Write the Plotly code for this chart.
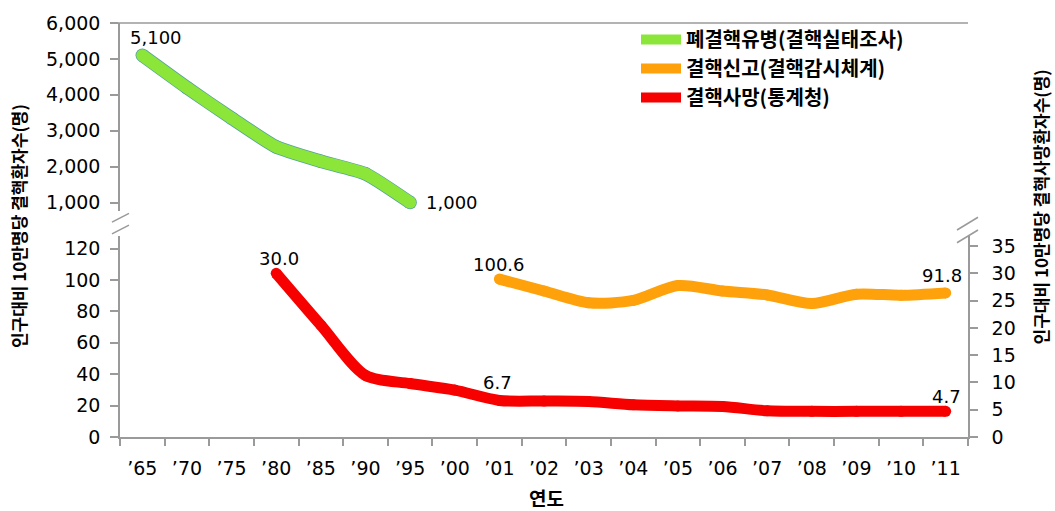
import plotly.graph_objects as go

# ---------------- data ----------------
years = ["’65", "’70", "’75", "’80", "’85", "’90", "’95", "’00", "’01", "’02",
         "’03", "’04", "’05", "’06", "’07", "’08", "’09", "’10", "’11"]

prev_name = "폐결핵유병(결핵실태조사)"
prev_years = years[0:7]
prev_vals = [5100, 4200, 3350, 2550, 2150, 1800, 1000]

notif_name = "결핵신고(결핵감시체계)"
notif_years = years[8:]
notif_vals = [100.6, 93.0, 85.5, 87.0, 96.5, 93.0, 90.5, 85.0, 91.0, 90.3, 91.8]

death_name = "결핵사망(통계청)"
death_years = years[3:]
death_vals = [30.0, 20.5, 11.3, 9.8, 8.6, 6.7, 6.6, 6.5, 5.9, 5.7, 5.6, 4.8, 4.7, 4.7, 4.7, 4.7]

left_title = "인구대비 10만명당 결핵환자수(명)"
right_title = "인구대비 10만명당 결핵사망환자수(명)"
x_title = "연도"

top_ticks = [1000, 2000, 3000, 4000, 5000, 6000]
left_ticks = [0, 20, 40, 60, 80, 100, 120]
right_ticks = [0, 5, 10, 15, 20, 25, 30, 35]

# ---------------- style ----------------
W, H = 1055, 511
ML, MR, MT, MB = 120, 87, 15, 74
PW, PH = W - ML - MR, H - MT - MB
AX = "#9a9a9a"
NUM = dict(family="DejaVu Sans", size=19, color="black")
LAB = dict(family="DejaVu Sans", size=18, color="black")
KOR = dict(family="Noto Sans CJK KR", size=17, color="black", weight="bold")

GREEN, GREEN_EDGE, ORANGE, RED = "#8ce63a", "#55a39a", "#ffa10a", "#f70000"
LW = 11


def px_x(px):
    return (px - ML) / PW


def px_y(py):
    return (H - MB - py) / PH


fig = go.Figure()


def add_series(xs, ys, yax, name, color, width, smoothing, edge=None):
    if edge:
        fig.add_trace(go.Scatter(x=xs, y=ys, xaxis="x", yaxis=yax, mode="lines+markers",
                                 showlegend=False, hoverinfo="skip",
                                 line=dict(color=edge, width=width + 1.5, shape="spline",
                                           smoothing=smoothing),
                                 marker=dict(color=edge, size=width + 1.5, line=dict(width=0))))
    # round joints / caps
    fig.add_trace(go.Scatter(x=xs, y=ys, xaxis="x", yaxis=yax, mode="markers",
                             showlegend=False, hoverinfo="skip",
                             marker=dict(color=color, size=width, line=dict(width=0))))
    fig.add_trace(go.Scatter(x=xs, y=ys, xaxis="x", yaxis=yax, name=name, mode="lines",
                             line=dict(color=color, width=width, shape="spline",
                                       smoothing=smoothing)))


add_series(prev_years, prev_vals, "y3", prev_name, GREEN, LW + 1, 0.5, edge=GREEN_EDGE)
add_series(notif_years, notif_vals, "y", notif_name, ORANGE, LW, 0.8)
add_series(death_years, death_vals, "y2", death_name, RED, LW, 0.8)

bot_dom = [0, px_y(232)]
top_dom = [px_y(207), 1]
left_max = (H - MB - 232) / 1.6
right_max = (H - MB - 232) / 5.56
top_min = 1000 - (207 - 198) / 0.0366

axis_common = dict(showline=True, linecolor=AX, linewidth=1.5, ticks="outside",
                   tickcolor=AX, tickwidth=1.5, showgrid=False, zeroline=False)

fig.update_layout(
    width=W, height=H, margin=dict(l=ML, r=MR, t=MT, b=MB),
    paper_bgcolor="white", plot_bgcolor="white",
    xaxis=dict(type="category", categoryorder="array", categoryarray=years,
               range=[-0.5, len(years) - 0.5], anchor="y", tickson="boundaries",
               ticklen=7, tickfont=NUM, ticklabelstandoff=13, **axis_common),
    yaxis=dict(domain=bot_dom, range=[0, left_max], tickvals=left_ticks, anchor="x",
               ticklen=8, tickfont=NUM, ticklabelstandoff=6, **axis_common),
    yaxis2=dict(overlaying="y", side="right", range=[0, right_max], tickvals=right_ticks,
                anchor="x", ticklen=8, tickfont=NUM, ticklabelstandoff=10, **axis_common),
    yaxis3=dict(domain=top_dom, range=[top_min, 6000], tickvals=top_ticks, tickformat=",",
                anchor="x", ticklen=8, tickfont=NUM, ticklabelstandoff=6, **axis_common),
    yaxis4=dict(overlaying="y3", side="right", range=[top_min, 6000], anchor="x",
                showline=True, linecolor=AX, linewidth=1.5, showgrid=False, zeroline=False,
                showticklabels=False, ticks=""),
    legend=dict(x=px_x(636), y=px_y(12), xanchor="left", yanchor="top",
                font=dict(family="Noto Sans CJK KR", size=20, color="black", weight="bold"),
                bgcolor="rgba(0,0,0,0)", itemwidth=40, tracegroupgap=0),
    showlegend=True,
)

# top border line
fig.add_shape(type="line", xref="paper", yref="paper", x0=px_x(112), x1=1, y0=1, y1=1,
              line=dict(color=AX, width=1.5))

# axis break slashes
for (x0, y0, x1, y1) in [(112, 218, 129, 209), (112, 230, 129, 221),
                         (957, 226, 978, 213), (957, 239, 978, 226)]:
    fig.add_shape(type="line", xref="paper", yref="paper",
                  x0=px_x(x0), y0=px_y(y0), x1=px_x(x1), y1=px_y(y1),
                  line=dict(color=AX, width=1.5))

# data labels
labels = [
    (prev_years[0], prev_vals[0], "y3", "5,100", 14, 18, "center"),
    (prev_years[-1], prev_vals[-1], "y3", "1,000", 14, 0, "left"),
    (death_years[0], death_vals[0], "y2", "30.0", 3, 15, "center"),
    (notif_years[0], notif_vals[0], "y", "100.6", 0, 15, "center"),
    (notif_years[-1], notif_vals[-1], "y", "91.8", -4, 17, "center"),
    (death_years[5], death_vals[5], "y2", "6.7", -2, 18, "center"),
    (death_years[-1], death_vals[-1], "y2", "4.7", 1, 15, "center"),
]
for (xv, yv, yr, txt, xs, ys, xa) in labels:
    fig.add_annotation(x=xv, y=yv, xref="x", yref=yr, text=txt, showarrow=False,
                       xshift=xs, yshift=ys, xanchor=xa, yanchor="middle", font=LAB)

# axis titles
fig.add_annotation(x=px_x(18), y=px_y(222), xref="paper", yref="paper", text=left_title,
                   textangle=-90, showarrow=False, xanchor="center", yanchor="middle", font=KOR)
fig.add_annotation(x=px_x(1040), y=px_y(203), xref="paper", yref="paper", text=right_title,
                   textangle=-90, showarrow=False, xanchor="center", yanchor="middle", font=KOR)
fig.add_annotation(x=px_x(546), y=px_y(499), xref="paper", yref="paper", text=x_title,
                   showarrow=False, xanchor="center", yanchor="middle",
                   font=dict(family="Noto Sans CJK KR", size=19, color="black", weight="bold"))

fig.write_html("out.html")
